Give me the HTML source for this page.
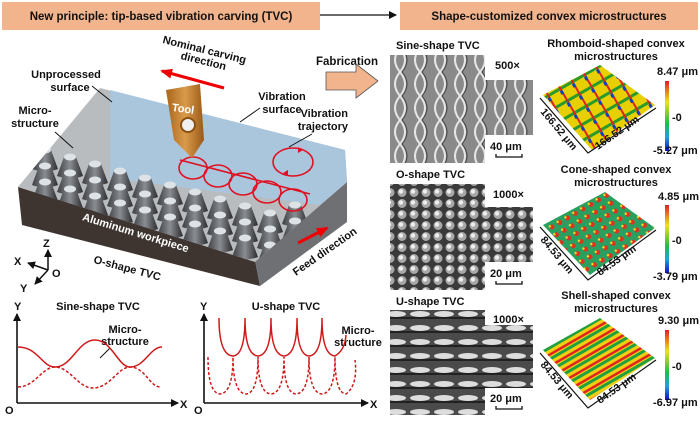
<!DOCTYPE html>
<html><head><meta charset="utf-8"><style>
html,body{margin:0;padding:0;background:#fff}
svg{display:block}
text{font-family:"Liberation Sans",Arial,sans-serif;font-weight:bold;fill:#111}
</style></head><body>
<svg width="700" height="422" viewBox="0 0 700 422" xmlns="http://www.w3.org/2000/svg">
<defs>
 <linearGradient id="cg" x1="0" x2="1"><stop offset="0" stop-color="#3a3c40"/><stop offset="0.5" stop-color="#8a8d92"/><stop offset="1" stop-color="#2a2b2e"/></linearGradient>
 <symbol id="cone" overflow="visible"><path d="M-6,0 L-13,19 Q0,24 13,19 L6,0 Z" fill="url(#cg)"/><ellipse cx="0" cy="0" rx="6" ry="3.5" fill="#dde2e7"/></symbol>
 <pattern id="sine" width="20" height="24" patternUnits="userSpaceOnUse"><rect width="20" height="24" fill="#8a8a8a"/><path d="M0,0 Q10,12 0,24 M20,0 Q10,12 20,24" stroke="#e6e6e6" stroke-width="2" fill="none"/><path d="M2,0 Q12,12 2,24" stroke="#444" stroke-width="1" fill="none"/></pattern>
 <pattern id="opat" width="12" height="11" patternUnits="userSpaceOnUse"><rect width="12" height="11" fill="#3a3a3a"/><circle cx="6" cy="5.5" r="4.5" fill="#a8a8a8"/><circle cx="5" cy="4.5" r="2.2" fill="#eee"/></pattern>
 <pattern id="upat" width="24" height="14" patternUnits="userSpaceOnUse"><rect width="24" height="14" fill="#4a4a4a"/><ellipse cx="12" cy="6" rx="10" ry="3" fill="#ddd"/><path d="M0,10 L24,10" stroke="#222" stroke-width="2"/></pattern>
 <pattern id="rh" width="14" height="14" patternUnits="userSpaceOnUse" patternTransform="rotate(-30)"><rect width="14" height="14" fill="#e8d000"/><path d="M0,7 L14,7" stroke="#2a9a2a" stroke-width="3"/><path d="M7,0 L7,14" stroke="#d22" stroke-width="2"/><rect x="5" y="9" width="3" height="4" fill="#1040c0"/></pattern>
 <pattern id="co" width="9" height="9" patternUnits="userSpaceOnUse" patternTransform="rotate(-30)"><rect width="9" height="9" fill="#2aa060"/><circle cx="4.5" cy="4.5" r="2.5" fill="#e03020"/><circle cx="3" cy="3" r="1.2" fill="#f0e020"/></pattern>
 <pattern id="sh" width="12" height="10" patternUnits="userSpaceOnUse" patternTransform="rotate(-30)"><rect width="12" height="10" fill="#f0d010"/><path d="M0,2 L12,2" stroke="#e02020" stroke-width="2.5"/><path d="M0,6 L12,6" stroke="#20a040" stroke-width="3"/></pattern>
 <linearGradient id="cbar" x1="0" y1="0" x2="0" y2="1"><stop offset="0" stop-color="#e02020"/><stop offset="0.3" stop-color="#f0e020"/><stop offset="0.6" stop-color="#20c040"/><stop offset="0.8" stop-color="#20a0e0"/><stop offset="1" stop-color="#1010c0"/></linearGradient>
 <linearGradient id="tool" x1="0" x2="1"><stop offset="0" stop-color="#a8651c"/><stop offset="0.5" stop-color="#d99a4a"/><stop offset="1" stop-color="#9a5a18"/></linearGradient>
 <marker id="ab" markerWidth="8" markerHeight="8" refX="7" refY="4" orient="auto" markerUnits="userSpaceOnUse"><path d="M0,0 L8,4 L0,8 Z" fill="#111"/></marker>
 <marker id="ar" markerWidth="12" markerHeight="10" refX="10" refY="5" orient="auto" markerUnits="userSpaceOnUse"><path d="M0,0 L12,5 L0,10 Z" fill="#e00"/></marker>
 <clipPath id="topclip"><polygon points="18,187 100,88 345,150 347,182 255,262"/></clipPath>
</defs>

<rect x="2" y="2" width="318" height="28" fill="#f2b48c"/>
<text x="161" y="20" text-anchor="middle" font-size="11.5">New principle: tip-based vibration carving (TVC)</text>
<line x1="320" y1="15" x2="396" y2="15" stroke="#111" stroke-width="1.3" marker-end="url(#ab)"/>
<rect x="400" y="2" width="298" height="28" fill="#f2b48c"/>
<text x="549" y="20" text-anchor="middle" font-size="11.5">Shape-customized convex microstructures</text>

<polygon points="18,187 255,260 260,286 22,225" fill="#3e3530"/>
<polygon points="255,260 347,182 347,222 260,286" fill="#6e7074"/>
<polygon points="18,187 100,88 345,150 347,182 255,262" fill="#b9bcbf"/>
<polygon points="110,90 345,150 347,182 320,205 110,178" fill="#a9c6df" opacity="0.9"/>
<g clip-path="url(#topclip)">
<g id="row">
<use href="#cone" x="45" y="150"/><use href="#cone" x="70" y="157"/><use href="#cone" x="95" y="164"/><use href="#cone" x="120" y="171"/><use href="#cone" x="145" y="178"/><use href="#cone" x="170" y="185"/><use href="#cone" x="195" y="192"/><use href="#cone" x="220" y="199"/><use href="#cone" x="245" y="206"/><use href="#cone" x="270" y="213"/><use href="#cone" x="295" y="205"/>
</g>
<use href="#row" x="0" y="16"/><use href="#row" x="0" y="32"/>
</g>
<polygon points="110,90 345,150 347,182 320,200 190,165 110,150" fill="#a9c6df" opacity="0.55"/>
<g fill="none" stroke="#e01020" stroke-width="1.6">
<ellipse cx="193" cy="168" rx="14" ry="11"/><ellipse cx="218" cy="176" rx="14" ry="11"/><ellipse cx="243" cy="184" rx="14" ry="11"/><ellipse cx="267" cy="192" rx="14" ry="11"/><ellipse cx="293" cy="200" rx="14" ry="11"/>
<path d="M180,160 L310,194"/>
<ellipse cx="293" cy="162" rx="20" ry="14"/>
</g>
<path d="M303,150 l-5,-3 l0,6z M283,173 l5,-3 l0,6z" fill="#e01020"/>
<path d="M166,90 L200,84 L204,140 L192,158 L174,140 Z" fill="url(#tool)"/>
<circle cx="188" cy="125" r="7" fill="#f0f0f0" stroke="#8a5010" stroke-width="2"/>
<text x="172" y="112" font-size="11" style="fill:#fff" transform="rotate(8 180 108)">Tool</text>
<line x1="224" y1="88" x2="162" y2="71" stroke="#e00" stroke-width="3" marker-end="url(#ar)"/>
<text x="160" y="50" font-size="11" transform="rotate(14 190 55)">Nominal carving</text>
<text x="178" y="64" font-size="11" transform="rotate(14 200 70)">direction</text>
<text x="66" y="78" font-size="11" text-anchor="middle">Unprocessed</text>
<text x="70" y="91" font-size="11" text-anchor="middle">surface</text>
<line x1="92" y1="86" x2="112" y2="102" stroke="#111"/>
<text x="35" y="114" font-size="11" text-anchor="middle">Micro-</text>
<text x="35" y="127" font-size="11" text-anchor="middle">structure</text>
<line x1="55" y1="132" x2="73" y2="148" stroke="#111"/>
<text x="282" y="100" font-size="11" text-anchor="middle">Vibration</text>
<text x="282" y="113" font-size="11" text-anchor="middle">surface</text>
<line x1="260" y1="108" x2="240" y2="122" stroke="#111"/>
<text x="348" y="117" font-size="11" text-anchor="end">Vibration</text>
<text x="348" y="130" font-size="11" text-anchor="end">trajectory</text>
<line x1="312" y1="134" x2="289" y2="147" stroke="#111"/>
<text x="78" y="235" font-size="11" style="fill:#fff" transform="rotate(17 130 240)">Aluminum workpiece</text>
<text x="92" y="270" font-size="11" transform="rotate(15 120 270)">O-shape TVC</text>
<line x1="298" y1="243" x2="327" y2="228" stroke="#e00" stroke-width="3" marker-end="url(#ar)"/>
<text x="296" y="276" font-size="11" transform="rotate(-35 296 276)">Feed direction</text>
<text x="316" y="65" font-size="11.5">Fabrication</text>
<path d="M326,72 L356,72 L356,64 L378,81 L356,98 L356,90 L326,90 Z" fill="#f2b48c" stroke="#555" stroke-width="0.8"/>
<g stroke="#111" stroke-width="1.5" fill="#111">
<line x1="48" y1="270" x2="48" y2="250" marker-end="url(#ab)"/>
<line x1="48" y1="270" x2="28" y2="263" marker-end="url(#ab)"/>
<line x1="48" y1="270" x2="35" y2="284" marker-end="url(#ab)"/>
</g>
<text x="43" y="247" font-size="11">Z</text><text x="14" y="265" font-size="11">X</text><text x="52" y="277" font-size="11">O</text><text x="20" y="292" font-size="11">Y</text>

<g stroke="#111" stroke-width="1.6">
<line x1="17" y1="403" x2="17" y2="314" marker-end="url(#ab)"/>
<line x1="17" y1="403" x2="178" y2="403" marker-end="url(#ab)"/>
</g>
<text x="5" y="414" font-size="11">O</text><text x="14" y="310" font-size="11">Y</text><text x="180" y="408" font-size="11">X</text>
<text x="98" y="310" font-size="11" text-anchor="middle">Sine-shape TVC</text>
<text x="125" y="333" font-size="11" text-anchor="middle">Micro-</text>
<text x="125" y="345" font-size="11" text-anchor="middle">structure</text>
<line x1="110" y1="348" x2="100" y2="358" stroke="#111"/>
<path d="M18,347 C38,347 42,367 55,367 C72,367 78,340 95,340 C112,340 118,367 130,367 C145,367 150,347 162,347" fill="none" stroke="#d01818" stroke-width="1.5"/>
<path d="M18,387 C35,387 42,367 55,367 C70,367 78,388 93,388 C110,388 118,367 130,367 C145,367 150,387 160,387" fill="none" stroke="#d01818" stroke-width="1.5" stroke-dasharray="3,2"/>

<g stroke="#111" stroke-width="1.6">
<line x1="204" y1="403" x2="204" y2="314" marker-end="url(#ab)"/>
<line x1="204" y1="403" x2="368" y2="403" marker-end="url(#ab)"/>
</g>
<text x="194" y="414" font-size="11">O</text><text x="200" y="310" font-size="11">Y</text><text x="370" y="408" font-size="11">X</text>
<text x="286" y="310" font-size="11" text-anchor="middle">U-shape TVC</text>
<text x="358" y="334" font-size="11" text-anchor="middle">Micro-</text>
<text x="358" y="346" font-size="11" text-anchor="middle">structure</text>
<g fill="none" stroke="#d01818" stroke-width="1.5">
<path d="M219,318 Q219,355 233,356 Q245,355 245,318 Q245,355 258,356 Q271,355 271,318 Q271,355 284,356 Q297,355 297,318 Q297,355 309,356 Q322,355 322,318 Q322,355 335,356 Q345,350 346,335"/>
<path stroke-dasharray="3,2" d="M208,357 Q208,393 220,394 Q233,393 233,357 Q233,393 246,394 Q258,393 258,357 Q258,393 271,394 Q284,393 284,357 Q284,393 296,394 Q309,393 309,357 Q309,393 322,394 Q335,393 335,357 Q335,393 346,394 Q358,385 355,360"/>
</g>

<text x="396" y="49" font-size="11">Sine-shape TVC</text>
<path d="M390,55 L485,55 L485,80 L533,80 L533,135 L485,135 L485,163 L390,163 Z" fill="url(#sine)"/>
<text x="495" y="69" font-size="11">500×</text>
<text x="490" y="150" font-size="11">40 μm</text>
<path d="M496,154 L496,157 L522,157 L522,154" fill="none" stroke="#111" stroke-width="1.3"/>
<text x="396" y="178" font-size="11">O-shape TVC</text>
<path d="M390,184 L485,184 L485,207 L533,207 L533,262 L485,262 L485,290 L390,290 Z" fill="url(#opat)"/>
<text x="493" y="198" font-size="11">1000×</text>
<text x="490" y="277" font-size="11">20 μm</text>
<path d="M496,281 L496,284 L522,284 L522,281" fill="none" stroke="#111" stroke-width="1.3"/>
<text x="396" y="305" font-size="11">U-shape TVC</text>
<path d="M390,310 L485,310 L485,325 L533,325 L533,388 L485,388 L485,415 L390,415 Z" fill="url(#upat)"/>
<text x="493" y="323" font-size="11">1000×</text>
<text x="490" y="402" font-size="11">20 μm</text>
<path d="M496,406 L496,409 L522,409 L522,406" fill="none" stroke="#111" stroke-width="1.3"/>

<g font-size="11">
<text x="616" y="47" text-anchor="middle">Rhomboid-shaped convex</text>
<text x="616" y="60" text-anchor="middle">microstructures</text>
<polygon points="543,95 600,65 655,105 592,150" fill="url(#rh)"/>
<path d="M540,98 L588,153 L656,108" fill="none" stroke="#111" stroke-width="1.2"/>
<text x="540" y="112" font-size="10.5" transform="rotate(50 540 112)">166.52 μm</text>
<text x="598" y="150" font-size="10.5" transform="rotate(-35 598 150)">166.52 μm</text>
<rect x="665" y="81" width="4" height="70" fill="url(#cbar)"/>
<text x="657" y="75">8.47 μm</text><text x="672" y="121">-0</text><text x="653" y="154">-5.27 μm</text>

<text x="616" y="173" text-anchor="middle">Cone-shaped convex</text>
<text x="616" y="186" text-anchor="middle">microstructures</text>
<polygon points="543,225 605,192 655,228 590,275" fill="url(#co)"/>
<path d="M540,227 L588,280 L656,230" fill="none" stroke="#111" stroke-width="1.2"/>
<text x="540" y="240" font-size="10.5" transform="rotate(50 540 240)">84.53 μm</text>
<text x="600" y="276" font-size="10.5" transform="rotate(-35 600 276)">84.53 μm</text>
<rect x="665" y="205" width="4" height="68" fill="url(#cbar)"/>
<text x="658" y="200">4.85 μm</text><text x="672" y="244">-0</text><text x="653" y="280">-3.79 μm</text>

<text x="616" y="299" text-anchor="middle">Shell-shaped convex</text>
<text x="616" y="312" text-anchor="middle">microstructures</text>
<polygon points="543,350 600,318 655,358 590,400" fill="url(#sh)"/>
<path d="M540,353 L588,408 L656,360" fill="none" stroke="#111" stroke-width="1.2"/>
<text x="540" y="365" font-size="10.5" transform="rotate(50 540 365)">84.53 μm</text>
<text x="600" y="404" font-size="10.5" transform="rotate(-35 600 404)">84.53 μm</text>
<rect x="665" y="330" width="4" height="70" fill="url(#cbar)"/>
<text x="658" y="324">9.30 μm</text><text x="672" y="370">-0</text><text x="653" y="406">-6.97 μm</text>
</g>
</svg>
</body></html>
